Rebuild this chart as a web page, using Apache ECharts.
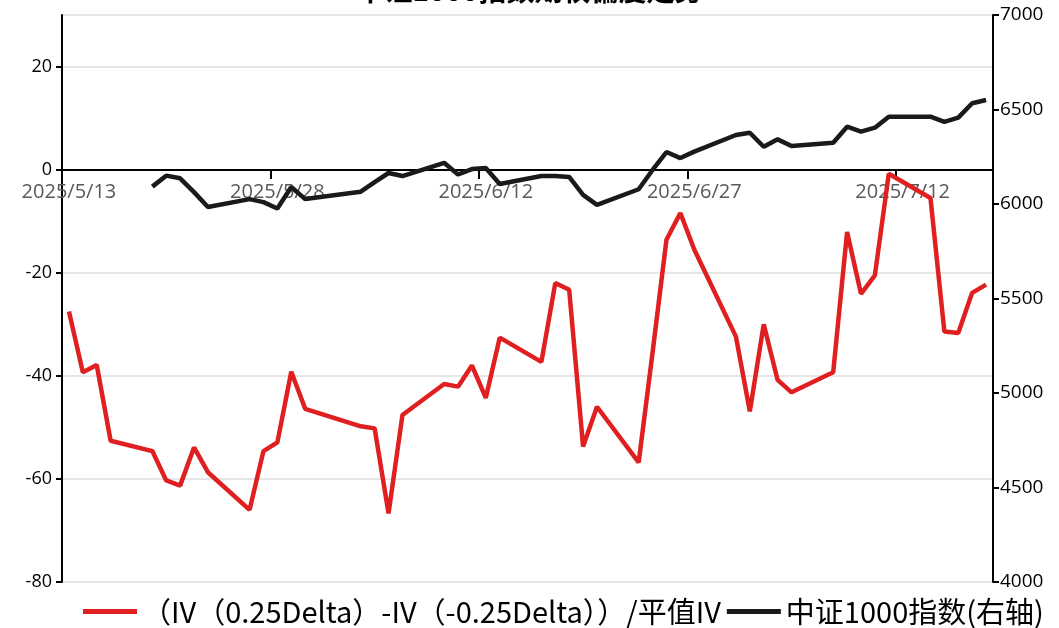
<!DOCTYPE html>
<html>
<head>
<meta charset="utf-8">
<script src="https://cdn.jsdelivr.net/npm/echarts@6.0.0/dist/echarts.min.js"></script>
<style>
  html, body { margin: 0; padding: 0; background: #fff; }
  #chart { width: 1059px; height: 628px; }
</style>
</head>
<body>
<div id="chart"></div>
<script>
// trading days (2025)
var tradeDates = [
  '5/13', '5/14', '5/15', '5/16', '5/19', '5/20', '5/21', '5/22', '5/23',
  '5/26', '5/27', '5/28', '5/29', '5/30',
  '6/3', '6/4', '6/5', '6/6', '6/9', '6/10', '6/11', '6/12', '6/13',
  '6/16', '6/17', '6/18', '6/19', '6/20', '6/23', '6/24', '6/25', '6/26', '6/27',
  '6/30', '7/1', '7/2', '7/3', '7/4', '7/7', '7/8', '7/9', '7/10', '7/11',
  '7/14', '7/15', '7/16', '7/17', '7/18'
];
// (IV(0.25Delta)-IV(-0.25Delta))/ATM IV, %
var skewVals = [
  -27.5, -39.3, -37.9, -52.6, -54.6, -60.3, -61.3, -53.9, -58.7,
  -66.0, -54.6, -52.9, -39.2, -46.4,
  -49.8, -50.2, -66.7, -47.6, -41.6, -42.1, -38.0, -44.3, -32.6,
  -37.3, -22.0, -23.3, -53.7, -46.0, -56.8, -35.5, -13.6, -8.4, -15.5,
  -32.4, -46.9, -30.0, -40.8, -43.2, -39.3, -12.1, -24.1, -20.5, -0.8,
  -5.5, -31.4, -31.7, -23.9, -22.3
];
// CSI 1000 index (right axis)
var indexVals = [
  null, null, null, null, 6092, 6150, 6136, 6063, 5984,
  6026, 6010, 5976, 6090, 6026,
  6065, 6116, 6164, 6148, 6218, 6156, 6185, 6190, 6106,
  6148, 6148, 6143, 6048, 5995, 6078, 6180, 6275, 6243, 6277,
  6365, 6377, 6303, 6342, 6307, 6324, 6409, 6383, 6404, 6462,
  6462, 6435, 6457, 6533, 6550
];

var skewName = '（IV（0.25Delta）-IV（-0.25Delta））/平值IV';
var indexName = '中证1000指数(右轴)';

// calendar-day axis like the Excel date axis
var days = [];
var d = new Date(2025, 4, 13);
var end = new Date(2025, 6, 18);
while (d <= end) {
  days.push('2025/' + (d.getMonth() + 1) + '/' + d.getDate());
  d.setDate(d.getDate() + 1);
}
var skewFull = days.map(function () { return null; });
var indexFull = days.map(function () { return null; });
tradeDates.forEach(function (t, i) {
  var k = days.indexOf('2025/' + t);
  skewFull[k] = skewVals[i];
  indexFull[k] = indexVals[i];
});

var myChart = echarts.init(document.getElementById('chart'));
var font = 'Open Sans';
var every15 = function (i) { return i % 15 === 0; };

myChart.setOption({
  backgroundColor: '#fff',
  animation: false,
  title: {
    text: '中证1000指数期权偏度走势',
    left: 'center',
    top: -29,
    textStyle: { fontSize: 28, fontWeight: 'bold', color: '#000', fontFamily: 'Noto Sans CJK SC' }
  },
  legend: {
    left: 78,
    bottom: -3,
    icon: 'rect',
    itemWidth: 54,
    itemHeight: 5,
    itemGap: 6,
    textStyle: { fontSize: 29, color: '#000', fontFamily: 'Noto Sans CJK SC' },
    data: [skewName, indexName]
  },
  grid: { left: 62, right: 66, top: 15, bottom: 46 },
  xAxis: {
    type: 'category',
    data: days,
    boundaryGap: true,
    offset: -412,
    axisLine: { onZero: false, lineStyle: { color: '#000', width: 2 } },
    axisTick: { show: true, inside: false, interval: every15, length: 9, lineStyle: { color: '#000', width: 2 } },
    axisLabel: { interval: 14, color: '#595959', fontSize: 20, fontFamily: font, margin: 12 },
    splitLine: { show: false }
  },
  yAxis: [{
    type: 'value',
    min: -80,
    max: 30,
    interval: 20,
    axisLine: { show: true, lineStyle: { color: '#000', width: 2 } },
    axisTick: { show: true, length: 6, lineStyle: { color: '#000', width: 2 } },
    axisLabel: { color: '#000', fontSize: 18, fontFamily: font, showMaxLabel: false, margin: 10 },
    splitLine: { lineStyle: { color: '#e6e6e6', width: 2 } }
  }, {
    type: 'value',
    min: 4000,
    max: 7000,
    interval: 500,
    axisLine: { show: true, lineStyle: { color: '#000', width: 2 } },
    axisTick: { show: true, length: 6, lineStyle: { color: '#000', width: 2 } },
    axisLabel: { color: '#000', fontSize: 19, fontFamily: font, margin: 7, formatter: function (v) { return String(v); } },
    splitLine: { show: false }
  }],
  series: [{
    name: skewName,
    type: 'line',
    yAxisIndex: 0,
    data: skewFull,
    connectNulls: true,
    symbol: 'none',
    lineStyle: { color: '#e02020', width: 4.5 },
    itemStyle: { color: '#e02020' }
  }, {
    name: indexName,
    type: 'line',
    yAxisIndex: 1,
    data: indexFull,
    connectNulls: true,
    symbol: 'none',
    lineStyle: { color: '#1a1a1a', width: 4.5 },
    itemStyle: { color: '#1a1a1a' }
  }]
});
</script>
</body>
</html>
